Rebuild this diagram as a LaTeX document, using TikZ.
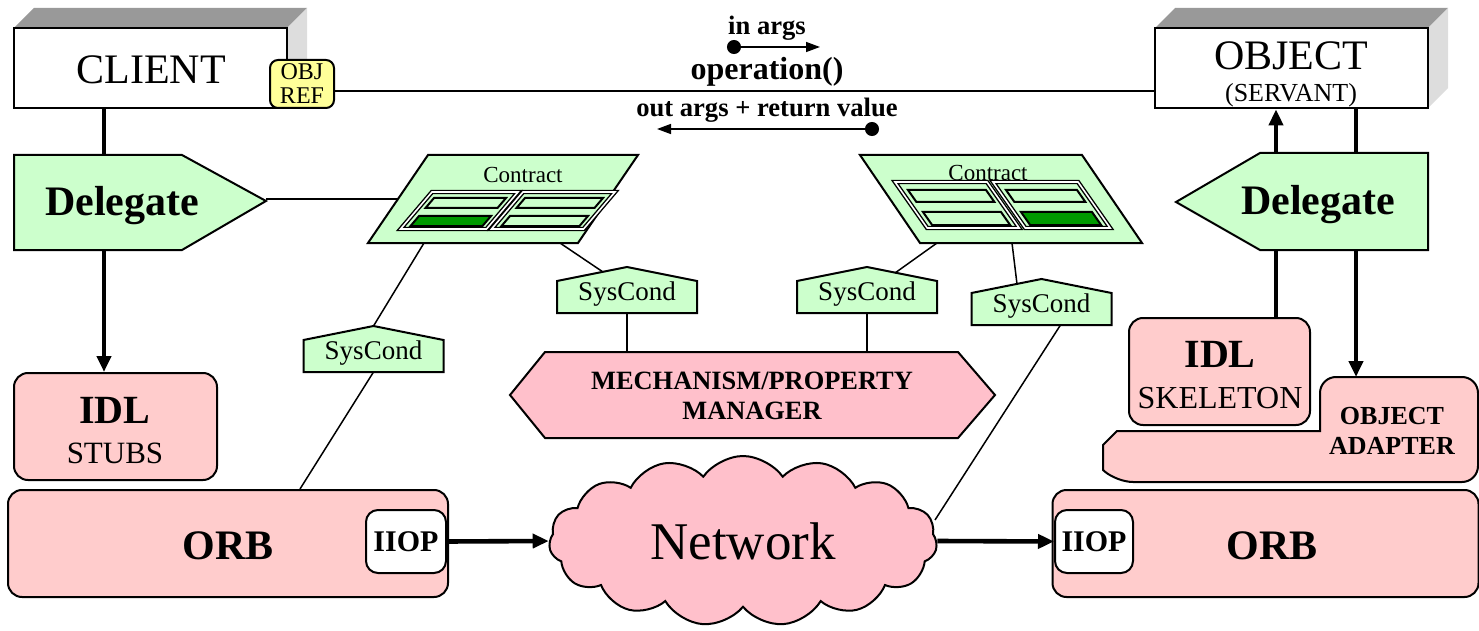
\documentclass[tikz,border=0pt]{standalone}
\usepackage{fontspec}
\setmainfont{Liberation Serif}
\usetikzlibrary{arrows.meta,shapes.symbols,calc}
\definecolor{lgreen}{HTML}{CCFFCC}
\definecolor{dgreen}{HTML}{009900}
\definecolor{lpink}{HTML}{FFCCCC}
\definecolor{pinkc}{HTML}{FFC0CB}
\definecolor{yel}{HTML}{FFFF99}
\definecolor{topgray}{HTML}{999999}
\definecolor{sidegray}{HTML}{DDDDDD}
\newcommand{\fz}[1]{\fontsize{#1}{#1}\selectfont}
% parallelogram: [style]{ytop}{ybot}{xleft at top}{xright at top}{slant}
\newcommand{\pgram}[6][]{\draw[#1] (#4,#2) -- (#5,#2) -- ({#5-#6*(#3-#2)},#3) -- ({#4-#6*(#3-#2)},#3) -- cycle;}
\tikzset{
  box/.style={draw, line width=1pt, inner sep=0pt},
  bigbox/.style={draw, line width=1.4pt, inner sep=0pt, fill=white},
  rbox/.style={box, fill=lpink, rounded corners=7pt},
  thickline/.style={line width=2.3pt},
  thinline/.style={line width=0.75pt},
  arr/.style={thickline, -{Triangle[length=8pt,width=7pt]}},
  framest/.style={draw, line width=0.7pt, double=white, double distance=0.8pt, fill=lgreen},
  slotst/.style={draw, line width=1pt},
  lbl/.style={inner sep=0pt},
  syscond/.pic={
    \draw[box, fill=lgreen] (-70,0) -- (-70,-32) -- (0,-46) -- (70,-32) -- (70,0) -- cycle;
    \node[lbl, font=\fz{13.5}] (-t) at (0,-19) {SysCond};
    \coordinate (-top) at (0,-46);
    \coordinate (-bot) at (0,0);
  }
}
\begin{document}
\begin{tikzpicture}[x=0.5pt,y=-0.5pt]
\useasboundingbox (0,0) rectangle (1479,631);

% ---------- CLIENT ----------
\fill[topgray] (14,28) -- (34,8) -- (307,8) -- (287,28) -- cycle;
\fill[sidegray] (287,28) -- (307,8) -- (307,88) -- (287,108) -- cycle;
\node[bigbox, minimum width=136.5pt, minimum height=40pt] (client) at (150.5,68) {};
\node[lbl, font=\fz{21}] (clientt) at (151,70) {CLIENT};
\node[box, fill=yel, rounded corners=4pt, minimum width=32pt, minimum height=24pt, align=center, font=\fontsize{12}{12}\selectfont] (objref) at (302,84) {OBJ\\REF};

% ---------- OBJECT ----------
\fill[topgray] (1155,28) -- (1175,8) -- (1448,8) -- (1428,28) -- cycle;
\fill[sidegray] (1428,28) -- (1448,8) -- (1448,88) -- (1428,108) -- cycle;
\node[bigbox, minimum width=136.5pt, minimum height=40pt] (object) at (1291.5,68) {};
\node[lbl, font=\fz{21}] (objectt) at (1291,56) {OBJECT};
\node[lbl, font=\fz{13}] (servant) at (1291,95) {(SERVANT)};

% operation line
\coordinate (ly) at (0,91);
\draw[thinline] (objref.east |- ly) -- (object.west |- ly);
\node[lbl, font=\bfseries\fz{13.3}] (inargs) at (767,28) {in args};
\coordinate (ia1) at (727,47);
\coordinate (ia2) at (820,47);
\draw[thinline, {Circle[length=7pt]}-{Triangle[length=7pt,width=5pt]}] (ia1) -- (ia2);
\node[lbl, font=\bfseries\fz{16}] (oper) at (767,72) {operation()};
\node[lbl, font=\bfseries\fz{13.3}] (outargs) at (767,110) {out args + return value};
\coordinate (oa1) at (879,129);
\coordinate (oa2) at (657,129);
\draw[thinline, {Circle[length=7pt]}-{Triangle[length=7pt,width=5pt]}] (oa1) -- (oa2);

% ---------- Delegates ----------
\draw[box, fill=lgreen] (14,155) -- (182,155) -- (266,201) -- (182,250) -- (14,250) -- cycle;
\node[lbl, font=\bfseries\fz{21}] (ldel) at (122,206) {Delegate};
\coordinate (ldeltip) at (266,199);
\coordinate (ldeltop) at (104,155);
\coordinate (ldelbot) at (104,250);

\draw[box, fill=lgreen] (1428,153) -- (1260,153) -- (1176,202) -- (1260,250) -- (1428,250) -- cycle;
\node[lbl, font=\bfseries\fz{21}] (rdel) at (1318,205) {Delegate};
\coordinate (rdeltopa) at (1276,153);
\coordinate (rdeltopb) at (1356,153);
\coordinate (rdelbota) at (1276,250);
\coordinate (rdelbotb) at (1356,250);

% ---------- IDL STUBS / ORB left ----------
\node[rbox, minimum width=101.5pt, minimum height=53.5pt] (stubs) at (115.5,426.5) {};
\node[lbl, font=\bfseries\fz{20}] (stubsa) at (115,410) {IDL};
\node[lbl, font=\fz{15.5}] (stubsb) at (115,453) {STUBS};

\node[rbox, minimum width=220pt, minimum height=53.5pt] (lorb) at (228,543.5) {};
\node[lbl, font=\bfseries\fz{21}] (lorbt) at (228,546) {ORB};
\node[box, fill=white, rounded corners=6pt, minimum width=40pt, minimum height=31.5pt, font=\bfseries\fz{15}] (liiop) at (406,541.5) {IIOP};

% ---------- right side ----------
\node[rbox, minimum width=90.5pt, minimum height=53.5pt] (skel) at (1219.5,371.5) {};
\node[lbl, font=\bfseries\fz{20}] (skela) at (1220,354) {IDL};
\node[lbl, font=\fz{16}] (skelb) at (1220,398) {SKELETON};

\draw[box, fill=lpink, rounded corners=8pt] (1320,431) -- (1320,377) -- (1478,377) -- (1478,482) -- (1117,482) [sharp corners] -- (1103,470) -- (1103,445) -- (1117,431) -- cycle;
\node[lbl, align=center, font=\bfseries\fontsize{13}{15}\selectfont] (adapter) at (1392,431) {OBJECT\\ADAPTER};
\coordinate (adtop) at (1356,377);

\node[rbox, minimum width=213pt, minimum height=53.5pt] (rorb) at (1265.5,543.5) {};
\node[lbl, font=\bfseries\fz{21}] (rorbt) at (1272,546) {ORB};
\node[box, fill=white, rounded corners=6pt, minimum width=39pt, minimum height=31.5pt, font=\bfseries\fz{15}] (riiop) at (1094,541.5) {IIOP};

% ---------- Mechanism manager ----------
\draw[box, fill=pinkc] (510,395) -- (545,352) -- (958,352) -- (995,395) -- (958,438) -- (545,438) -- cycle;
\node[lbl, align=center, font=\bfseries\fontsize{13.2}{15}\selectfont] (mpm) at (752,396) {MECHANISM/PROPERTY\\MANAGER};
\coordinate (mpmtop) at (752,352);

% ---------- Network ----------
\node[cloud, cloud puffs=15, cloud puff arc=110, cloud ignores aspect, draw, line width=1pt, fill=pinkc, minimum width=194pt, minimum height=85pt, inner sep=0pt, font=\fz{26.5}] (net) at (743,541) {Network};

% ---------- Contracts ----------
\pgram[box, fill=lgreen]{155}{243}{428}{638}{0.682}
\node[lbl, font=\fz{11.5}] (lcon) at (523,175) {Contract};
\pgram[framest]{192}{229}{432}{518}{0.85}
\pgram[framest]{192}{229}{523}{615}{0.85}
\pgram[slotst, fill=lgreen]{198}{208}{434}{506}{0.85}
\pgram[slotst, fill=dgreen]{216}{226}{419}{491}{0.85}
\pgram[slotst, fill=lgreen]{198}{208}{525}{603}{0.85}
\pgram[slotst, fill=lgreen]{216}{226}{510}{588}{0.85}
\coordinate (lconleft) at (398,199);
\coordinate (lconb1) at (424,243);
\coordinate (lconb2) at (560,243);

\pgram[box, fill=lgreen]{155}{243}{860}{1082}{-0.682}
\node[lbl, font=\fz{11.5}] (rcon) at (988,173) {Contract};
\pgram[framest]{182}{228}{895}{987}{-0.7}
\pgram[framest]{182}{228}{993}{1078}{-0.7}
\pgram[slotst, fill=lgreen]{190}{202}{908}{986}{-0.7}
\pgram[slotst, fill=lgreen]{212}{225}{923}{1001}{-0.7}
\pgram[slotst, fill=lgreen]{190}{202}{1006}{1077}{-0.7}
\pgram[slotst, fill=dgreen]{212}{225}{1021}{1092}{-0.7}
\coordinate (rconb1) at (937,243);
\coordinate (rconb2) at (1012,243);

% ---------- SysConds ----------
\pic (s1) at (373.5,372) {syscond};
\pic (s2) at (627,313) {syscond};
\pic (s3) at (867,313) {syscond};
\pic (s4) at (1041.5,325) {syscond};
\coordinate (s2hit) at (603,272);
\coordinate (s3hit) at (895,273);
\coordinate (s4hit) at (1017,284);

% ---------- connectors ----------
\draw[thickline] (client.south -| ldeltop) -- (ldeltop);
\draw[arr] (ldelbot) -- (stubs.north -| ldelbot);
\draw[thinline] (ldeltip) -- (lconleft);

\draw[arr] (rdeltopa) -- (object.south -| rdeltopa);
\draw[thickline] (object.south -| rdeltopb) -- (rdeltopb);
\draw[thickline] (rdelbota) -- (skel.north -| rdelbota);
\draw[arr] (rdelbotb) -- (adtop);

\draw[thinline] (lconb1) -- (s1-top);
\draw[thinline] (s1-bot) -- (lorb.north -| 300,0);
\draw[thinline] (lconb2) -- (s2hit);
\draw[thinline] (s2-bot) -- (s2-bot |- mpmtop);
\draw[thinline] (rconb1) -- (s3hit);
\draw[thinline] (s3-bot) -- (s3-bot |- mpmtop);
\draw[thinline] (rconb2) -- (s4hit);
\draw[thinline] ($(s4-bot)+(19,0)$) -- (935,520);

\draw[arr] (liiop.east) -- (net.west);
\draw[arr] (net.east) -- (riiop.west);
\end{tikzpicture}
\end{document}
